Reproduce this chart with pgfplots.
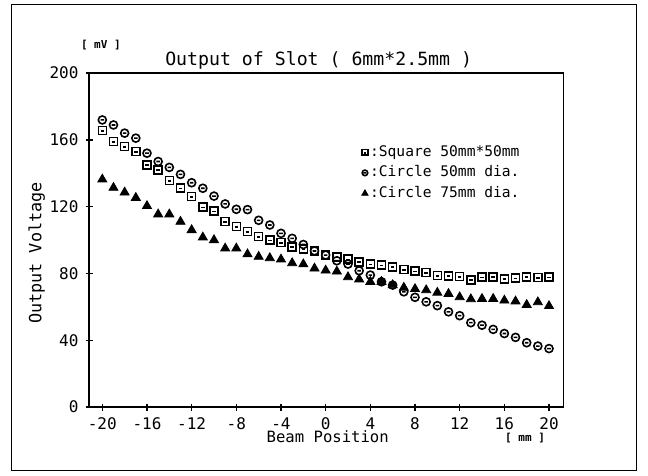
\documentclass[border=0pt]{standalone}
\usepackage{pgfplots}
\pgfplotsset{compat=1.18}
\usepackage{fontspec}
\setmainfont{DejaVu Sans Mono}

% plotter-style marks
\pgfdeclareplotmark{sqm}{%
  \pgfpathrectangle{\pgfpoint{-\pgfplotmarksize}{-\pgfplotmarksize}}{\pgfpoint{2\pgfplotmarksize}{2\pgfplotmarksize}}%
  \pgfpathmoveto{\pgfpoint{-0.45\pgfplotmarksize}{-0.1\pgfplotmarksize}}%
  \pgfpathlineto{\pgfpoint{0.45\pgfplotmarksize}{-0.1\pgfplotmarksize}}%
  \pgfusepathqstroke}
\pgfdeclareplotmark{circm}{%
  \pgfpathcircle{\pgfpointorigin}{\pgfplotmarksize}%
  \pgfpathmoveto{\pgfpoint{-0.45\pgfplotmarksize}{0pt}}%
  \pgfpathlineto{\pgfpoint{0.45\pgfplotmarksize}{0pt}}%
  \pgfusepathqstroke}

\begin{document}
\begin{tikzpicture}
\begin{axis}[
    width=237.25pt, height=167pt, scale only axis,
    xmin=-21.19, xmax=21.3, ymin=0, ymax=200,
    axis line style={line width=0.75pt},
    xtick={-20,-16,...,20}, ytick={0,40,...,200},
    tick pos=left, tick align=center,
    major tick length=3.5pt,
    every tick/.style={black, line width=0.7pt},
    /pgf/number format/assume math mode=true,
    tick label style={font=\fontsize{8}{9}\selectfont},
    clip=false,
    legend style={at={(rel axis cs:0.574,0.79)}, anchor=north west,
                  draw=none, fill=none, inner sep=0pt,
                  font=\fontsize{7.3}{8}\selectfont,
                  nodes={inner sep=1pt}, row sep=1.2pt},
    legend cell align=left,
    legend image code/.code={\draw[#1,/tikz/every mark/.append style={scale=0.7}] plot coordinates {(0.1cm,0cm)};},
]
\addplot[only marks, mark=sqm, mark size=2pt, line width=0.8pt] coordinates {
(-20,165.5) (-19,159) (-18,156) (-17,153) (-16,145) (-15,142) (-14,135.7)
(-13,131) (-12,126) (-11,119.7) (-10,117.2) (-9,111) (-8,108.2) (-7,105)
(-6,102) (-5,100) (-4,98.4) (-3,96) (-2,94.7) (-1,93.3) (0,91)
(1,89.8) (2,88.5) (3,87) (4,85.5) (5,85) (6,84) (7,82.4) (8,81.3)
(9,80.5) (10,78.8) (11,78.6) (12,78.2) (13,76.2) (14,77.8) (15,78)
(16,76.8) (17,77.3) (18,78) (19,77.5) (20,77.8)
};
\addlegendentry{:Square 50mm*50mm}
\addplot[only marks, mark=circm, mark size=2pt, line width=0.8pt] coordinates {
(-20,171.9) (-19,168.9) (-18,164) (-17,161) (-16,152) (-15,147) (-14,143.5)
(-13,139.3) (-12,134.3) (-11,131) (-10,126.3) (-9,121.6) (-8,118.4) (-7,118.2)
(-6,111.8) (-5,109) (-4,104) (-3,101) (-2,97.3) (-1,93.5) (0,91)
(1,87.6) (2,85.6) (3,81.6) (4,79) (5,75) (6,73) (7,69) (8,65.7)
(9,63) (10,60.7) (11,57) (12,54.7) (13,50.5) (14,49) (15,46.5)
(16,44) (17,41.7) (18,38.5) (19,36.5) (20,35)
};
\addlegendentry{:Circle 50mm dia.}
\addplot[only marks, mark=triangle*, mark size=2.6pt, black] coordinates {
(-20,136.3) (-19,131.3) (-18,128.5) (-17,125.3) (-16,120.4) (-15,115.4) (-14,115.4)
(-13,111) (-12,106) (-11,101.6) (-10,100) (-9,95) (-8,95) (-7,91.5)
(-6,90) (-5,89.2) (-4,88.4) (-3,86.2) (-2,85.5) (-1,83) (0,81.8)
(1,81.2) (2,77.8) (3,76.5) (4,75) (5,75) (6,73) (7,71.5) (8,70.7)
(9,70) (10,68.5) (11,67.8) (12,65.8) (13,64.6) (14,64.8) (15,64.8)
(16,63.8) (17,63.3) (18,61.2) (19,62.8) (20,60.5)
};
\addlegendentry{:Circle 75mm dia.}

\node[font=\fontsize{9.1}{11}\selectfont] at (rel axis cs:0.484,1.039) {Output of Slot ( 6mm*2.5mm )};
\node[font=\bfseries\fontsize{5.5}{6}\selectfont] at (rel axis cs:0.025,1.084) {[ mV ]};
\node[font=\fontsize{7.8}{9}\selectfont] at (rel axis cs:0.503,-0.0898) {Beam Position};
\node[font=\bfseries\fontsize{5.5}{6}\selectfont] at (rel axis cs:0.919,-0.093) {[ mm ]};
\node[font=\fontsize{8.4}{10}\selectfont, rotate=90] at (rel axis cs:-0.110,0.461) {Output Voltage};
\draw[line width=0.6pt] (rel axis cs:-0.163,-0.189) rectangle (rel axis cs:1.153,1.204);
\path (rel axis cs:-0.1876,-0.2036) rectangle (rel axis cs:1.178,1.2186);
\end{axis}
\end{tikzpicture}
\end{document}
